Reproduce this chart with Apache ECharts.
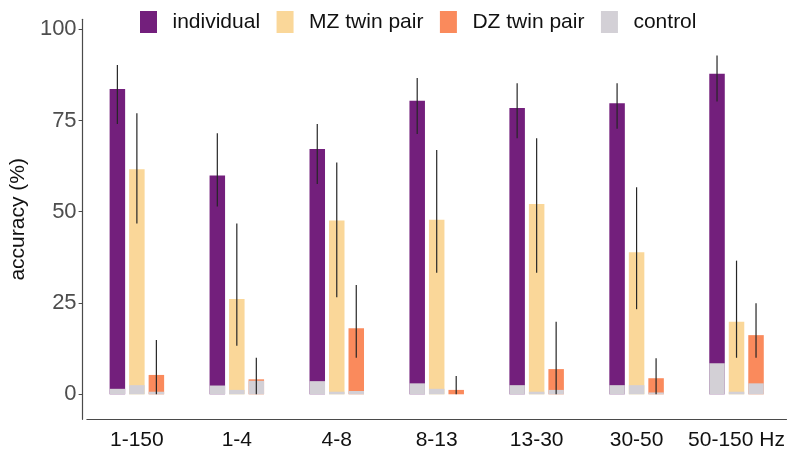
<!DOCTYPE html>
<html>
<head>
<meta charset="utf-8">
<script src="https://cdn.jsdelivr.net/npm/echarts@6/dist/echarts.min.js"></script>
<style>
    html, body { margin: 0; padding: 0; background: #fff; }
    #chart_main { width: 792px; height: 451px; }
</style>
</head>
<body>
<div id="chart_main"></div>
<script>
var bands = ['1-150', '1-4', '4-8', '8-13', '13-30', '30-50', '50-150 Hz'];
var yTicks = [0, 25, 50, 75, 100];

var individual = [83.6, 59.9, 67.2, 80.4, 78.4, 79.7, 87.8];
var individualLow = [74.0, 51.4, 57.6, 71.3, 70.1, 72.7, 80.2];
var individualHigh = [90.2, 71.5, 74.0, 86.6, 85.2, 85.2, 92.8];

var mzPair = [61.6, 26.1, 47.6, 47.8, 52.1, 38.9, 19.9];
var mzLow = [46.8, 13.3, 26.6, 33.3, 33.3, 23.3, 10.0];
var mzHigh = [77.0, 46.8, 63.5, 66.9, 70.1, 56.7, 36.6];

var dzPair = [5.3, 4.1, 18.1, 1.2, 6.9, 4.4, 16.2];
var dzLow = [0, 0, 10.0, 0, 0, 0, 10.0];
var dzHigh = [14.9, 10.0, 29.9, 5.0, 19.9, 9.9, 24.9];

// control accuracy at each of the three bar slots
var controlInd = [1.5, 2.4, 3.6, 3.0, 2.5, 2.5, 8.5];
var controlMZ = [2.5, 1.2, 0.7, 1.5, 0.7, 2.5, 0.7];
var controlDZ = [0.7, 3.7, 0.9, 0, 1.2, 0.5, 3.0];

var BAR_W = 15.5;
var BAR_GAP = 4;
var FONT = 'Liberation Sans, Arial, Helvetica, sans-serif';

function errorData(low, high) {
    return bands.map(function (b, i) { return [i, low[i], high[i]]; });
}

//error bars sit on the bar slot: -1 left, 0 middle, 1 right
function errorRender(slot) {
    return function (params, api) {
        var x = api.coord([api.value(0), 0])[0] + slot * (BAR_W + BAR_GAP);
        var lo = api.coord([api.value(0), api.value(1)])[1];
        var hi = api.coord([api.value(0), api.value(2)])[1];
        return {
            type: 'line',
            shape: { x1: x, y1: hi, x2: x, y2: lo },
            style: { stroke: '#262626', lineWidth: 1.2 }
        };
    };
}

function barSeries(name, data, color, axis) {
    return {
        name: name,
        type: 'bar',
        xAxisIndex: axis,
        data: data,
        barWidth: BAR_W,
        barGap: (BAR_GAP / BAR_W * 100).toFixed(1) + '%',
        itemStyle: { color: color },
        z: axis == 0 ? 2 : 3,
        animation: false
    };
}

function errorSeries(low, high, slot) {
    return {
        type: 'custom',
        xAxisIndex: 0,
        renderItem: errorRender(slot),
        data: errorData(low, high),
        z: 5,
        silent: true,
        animation: false
    };
}

var myChart = echarts.init(document.getElementById('chart_main'), null, { renderer: 'canvas' });
var option = {
    backgroundColor: '#fff',
    textStyle: { fontFamily: FONT },
    legend: {
        data: ['individual', 'MZ twin pair', 'DZ twin pair', 'control'],
        left: 140,
        top: 11,
        padding: 0,
        icon: 'rect',
        itemWidth: 17,
        itemHeight: 22,
        itemGap: 16.5,
        textStyle: { fontSize: 21, color: '#111', fontFamily: FONT, padding: [0, 0, 0, 10.5] }
    },
    grid: { left: 83.6, right: 5.5, top: 19.3, bottom: 31.7 },
    xAxis: [
        {
            type: 'category',
            data: bands,
            axisLine: { onZero: false, lineStyle: { color: '#4a4a4a', width: 1.2 } },
            axisTick: { show: false },
            axisLabel: { interval: 0, fontSize: 21, color: '#111', margin: 10, fontFamily: FONT }
        },
        {
            type: 'category',
            data: bands,
            show: false
        }
    ],
    yAxis: {
        type: 'value',
        min: -6.85,
        max: 102.7,
        offset: 4.3,
        name: 'accuracy (%)',
        nameLocation: 'middle',
        nameGap: 50,
        nameTextStyle: { fontSize: 21, color: '#111', fontFamily: FONT },
        splitLine: { show: false },
        axisLine: { show: true, lineStyle: { color: '#4a4a4a', width: 1.2 } },
        axisTick: { show: true, length: 4, customValues: yTicks, lineStyle: { color: '#4a4a4a' } },
        axisLabel: { fontSize: 22, color: '#4d4d4d', margin: 6, customValues: yTicks, fontFamily: FONT }
    },
    series: [
        barSeries('individual', individual, '#731F7C', 0),
        barSeries('MZ twin pair', mzPair, '#FAD799', 0),
        barSeries('DZ twin pair', dzPair, '#FA8A5C', 0),
        barSeries('control', controlInd, '#D3D0D6', 1),
        barSeries('control', controlMZ, '#D3D0D6', 1),
        barSeries('control', controlDZ, '#D3D0D6', 1),
        errorSeries(individualLow, individualHigh, -1),
        errorSeries(mzLow, mzHigh, 0),
        errorSeries(dzLow, dzHigh, 1)
    ]
};
myChart.setOption(option);
</script>
</body>
</html>
